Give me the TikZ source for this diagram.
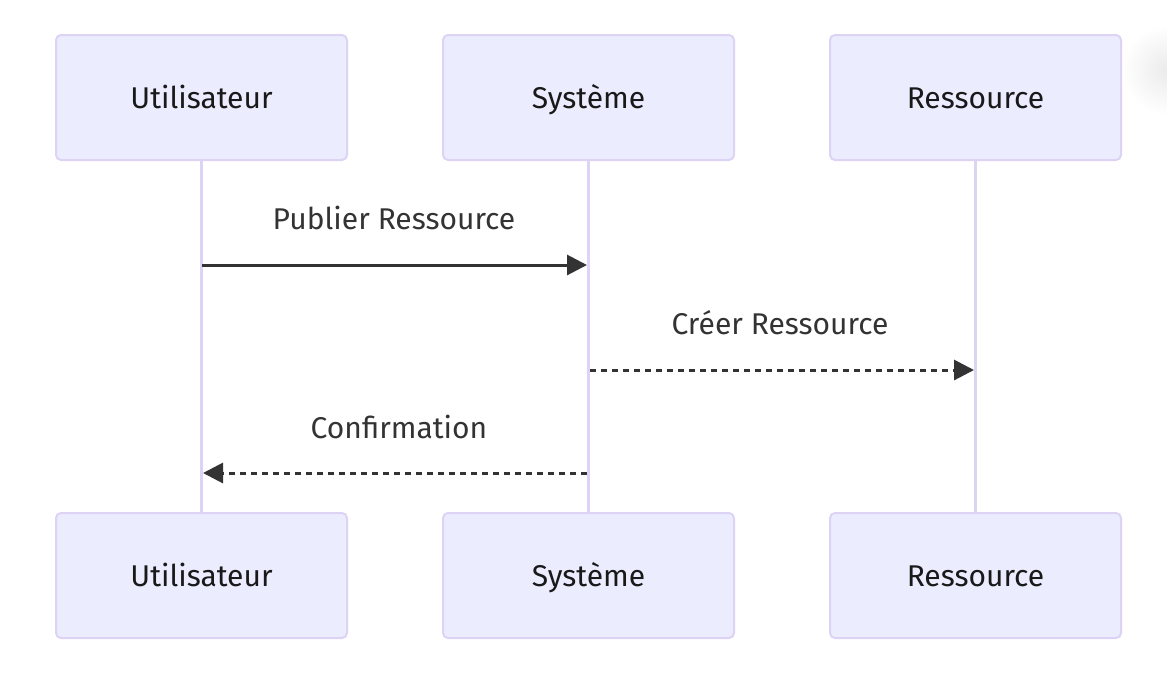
\documentclass[tikz,border=0pt]{standalone}
\usepackage{fontspec}
\setmainfont{Fira Sans}
\usetikzlibrary{arrows.meta}
\definecolor{actorfill}{HTML}{ECECFF}
\definecolor{actorline}{HTML}{DCD3F5}
\definecolor{lifeline}{HTML}{DCD3F5}
\definecolor{msg}{HTML}{333333}
\tikzset{
  actor/.style={draw=actorline, fill=actorfill, line width=2pt, rounded corners=5pt,
    minimum width=291pt, minimum height=125pt, inner sep=0pt, text height=22pt, text depth=0pt,
    font=\fontsize{30}{36}\selectfont, text=black!90},
  life/.style={draw=lifeline, line width=3.5pt},
  msgline/.style={draw=msg, line width=3pt, -{Triangle[length=20pt,width=20pt]}},
  msgdash/.style={msgline, dash pattern=on 6pt off 5pt},
  msglabel/.style={font=\fontsize{30}{36}\selectfont, text=msg, inner sep=0pt},
}
\begin{document}
\begin{tikzpicture}[x=1pt,y=-1pt]
\useasboundingbox (0,0) rectangle (1167,673);
\shade[inner color=black!8, outer color=white] (1167,70) circle (45);
\node[actor] (u1) at (201.5,97.5) {Utilisateur};
\node[actor] (s1) at (588.5,97.5) {Système};
\node[actor] (r1) at (975.5,97.5) {Ressource};
\node[actor] (u2) at (201.5,575.5) {Utilisateur};
\node[actor] (s2) at (588.5,575.5) {Système};
\node[actor] (r2) at (975.5,575.5) {Ressource};
\draw[life] (u1.south) -- (u2.north);
\draw[life] (s1.south) -- (s2.north);
\draw[life] (r1.south) -- (r2.north);
\coordinate (a1s) at (202,265); \coordinate (a1e) at (587,265);
\coordinate (a2s) at (590,370); \coordinate (a2e) at (974,370);
\coordinate (a3s) at (587,473); \coordinate (a3e) at (203,473);
\draw[msgline] (a1s) -- (a1e);
\draw[msgdash] (a2s) -- (a2e);
\draw[msgdash] (a3s) -- (a3e);
\node[msglabel] (l1) at (394,218) {Publier Ressource};
\node[msglabel] (l2) at (780,323) {Créer Ressource};
\node[msglabel] (l3) at (399,427) {Confirmation};
\end{tikzpicture}
\end{document}
